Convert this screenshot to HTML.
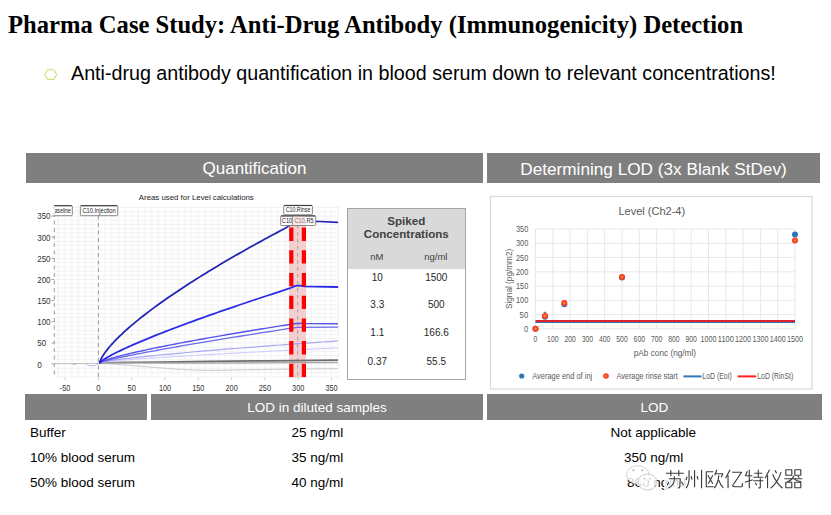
<!DOCTYPE html>
<html><head><meta charset="utf-8"><style>
*{margin:0;padding:0;box-sizing:border-box}
html,body{width:831px;height:515px;overflow:hidden;background:#fff}
body{position:relative;font-family:"Liberation Sans",sans-serif;color:#000}
.a{position:absolute;white-space:nowrap}
.bar{position:absolute;background:#7f7f7f;color:#fff;text-align:center}
svg{position:absolute;left:0;top:0}
svg text{font-family:"Liberation Sans",sans-serif}
.tbl{position:absolute;left:347.3px;top:207.8px;width:119px;height:172.5px;border:1px solid #a6a6a6;background:#fff;font-size:10px;color:#262626}
.tbl .hd{position:absolute;left:0;top:0;width:117px;height:60px;background:#d9d9d9}
.c{position:absolute;text-align:center;width:60px}
</style></head><body>
<div class="a" style="left:8px;top:10px;font-family:'Liberation Serif',serif;font-weight:bold;font-size:24.6px;line-height:30px">Pharma Case Study: Anti-Drug Antibody (Immunogenicity) Detection</div>
<div class="a" style="left:71px;top:60.6px;font-size:19.7px;line-height:24px">Anti-drug antibody quantification in blood serum down to relevant concentrations!</div>

<div class="bar" style="left:26px;top:153px;width:457px;height:30px;font-size:17px;line-height:32px">Quantification</div>
<div class="bar" style="left:487px;top:153px;width:333px;height:30px;font-size:17.2px;line-height:32px">Determining LOD (3x Blank StDev)</div>

<svg width="831" height="515" viewBox="0 0 831 515">
<line x1="58.4" y1="205.5" x2="58.4" y2="377.6" stroke="#efefef" stroke-width="0.8"/>
<line x1="65.1" y1="205.5" x2="65.1" y2="377.6" stroke="#efefef" stroke-width="0.8"/>
<line x1="71.8" y1="205.5" x2="71.8" y2="377.6" stroke="#efefef" stroke-width="0.8"/>
<line x1="78.4" y1="205.5" x2="78.4" y2="377.6" stroke="#efefef" stroke-width="0.8"/>
<line x1="85.1" y1="205.5" x2="85.1" y2="377.6" stroke="#efefef" stroke-width="0.8"/>
<line x1="91.7" y1="205.5" x2="91.7" y2="377.6" stroke="#efefef" stroke-width="0.8"/>
<line x1="98.4" y1="205.5" x2="98.4" y2="377.6" stroke="#efefef" stroke-width="0.8"/>
<line x1="105.1" y1="205.5" x2="105.1" y2="377.6" stroke="#efefef" stroke-width="0.8"/>
<line x1="111.7" y1="205.5" x2="111.7" y2="377.6" stroke="#efefef" stroke-width="0.8"/>
<line x1="118.4" y1="205.5" x2="118.4" y2="377.6" stroke="#efefef" stroke-width="0.8"/>
<line x1="125.0" y1="205.5" x2="125.0" y2="377.6" stroke="#efefef" stroke-width="0.8"/>
<line x1="131.7" y1="205.5" x2="131.7" y2="377.6" stroke="#efefef" stroke-width="0.8"/>
<line x1="138.4" y1="205.5" x2="138.4" y2="377.6" stroke="#efefef" stroke-width="0.8"/>
<line x1="145.0" y1="205.5" x2="145.0" y2="377.6" stroke="#efefef" stroke-width="0.8"/>
<line x1="151.7" y1="205.5" x2="151.7" y2="377.6" stroke="#efefef" stroke-width="0.8"/>
<line x1="158.3" y1="205.5" x2="158.3" y2="377.6" stroke="#efefef" stroke-width="0.8"/>
<line x1="165.0" y1="205.5" x2="165.0" y2="377.6" stroke="#efefef" stroke-width="0.8"/>
<line x1="171.7" y1="205.5" x2="171.7" y2="377.6" stroke="#efefef" stroke-width="0.8"/>
<line x1="178.3" y1="205.5" x2="178.3" y2="377.6" stroke="#efefef" stroke-width="0.8"/>
<line x1="185.0" y1="205.5" x2="185.0" y2="377.6" stroke="#efefef" stroke-width="0.8"/>
<line x1="191.6" y1="205.5" x2="191.6" y2="377.6" stroke="#efefef" stroke-width="0.8"/>
<line x1="198.3" y1="205.5" x2="198.3" y2="377.6" stroke="#efefef" stroke-width="0.8"/>
<line x1="205.0" y1="205.5" x2="205.0" y2="377.6" stroke="#efefef" stroke-width="0.8"/>
<line x1="211.6" y1="205.5" x2="211.6" y2="377.6" stroke="#efefef" stroke-width="0.8"/>
<line x1="218.3" y1="205.5" x2="218.3" y2="377.6" stroke="#efefef" stroke-width="0.8"/>
<line x1="224.9" y1="205.5" x2="224.9" y2="377.6" stroke="#efefef" stroke-width="0.8"/>
<line x1="231.6" y1="205.5" x2="231.6" y2="377.6" stroke="#efefef" stroke-width="0.8"/>
<line x1="238.3" y1="205.5" x2="238.3" y2="377.6" stroke="#efefef" stroke-width="0.8"/>
<line x1="244.9" y1="205.5" x2="244.9" y2="377.6" stroke="#efefef" stroke-width="0.8"/>
<line x1="251.6" y1="205.5" x2="251.6" y2="377.6" stroke="#efefef" stroke-width="0.8"/>
<line x1="258.2" y1="205.5" x2="258.2" y2="377.6" stroke="#efefef" stroke-width="0.8"/>
<line x1="264.9" y1="205.5" x2="264.9" y2="377.6" stroke="#efefef" stroke-width="0.8"/>
<line x1="271.6" y1="205.5" x2="271.6" y2="377.6" stroke="#efefef" stroke-width="0.8"/>
<line x1="278.2" y1="205.5" x2="278.2" y2="377.6" stroke="#efefef" stroke-width="0.8"/>
<line x1="284.9" y1="205.5" x2="284.9" y2="377.6" stroke="#efefef" stroke-width="0.8"/>
<line x1="291.5" y1="205.5" x2="291.5" y2="377.6" stroke="#efefef" stroke-width="0.8"/>
<line x1="298.2" y1="205.5" x2="298.2" y2="377.6" stroke="#efefef" stroke-width="0.8"/>
<line x1="304.9" y1="205.5" x2="304.9" y2="377.6" stroke="#efefef" stroke-width="0.8"/>
<line x1="311.5" y1="205.5" x2="311.5" y2="377.6" stroke="#efefef" stroke-width="0.8"/>
<line x1="318.2" y1="205.5" x2="318.2" y2="377.6" stroke="#efefef" stroke-width="0.8"/>
<line x1="324.8" y1="205.5" x2="324.8" y2="377.6" stroke="#efefef" stroke-width="0.8"/>
<line x1="331.5" y1="205.5" x2="331.5" y2="377.6" stroke="#efefef" stroke-width="0.8"/>
<line x1="338.2" y1="205.5" x2="338.2" y2="377.6" stroke="#efefef" stroke-width="0.8"/>
<line x1="54.3" y1="376.7" x2="338.2" y2="376.7" stroke="#efefef" stroke-width="0.8"/>
<line x1="54.3" y1="372.5" x2="338.2" y2="372.5" stroke="#efefef" stroke-width="0.8"/>
<line x1="54.3" y1="368.2" x2="338.2" y2="368.2" stroke="#efefef" stroke-width="0.8"/>
<line x1="54.3" y1="364.0" x2="338.2" y2="364.0" stroke="#efefef" stroke-width="0.8"/>
<line x1="54.3" y1="359.8" x2="338.2" y2="359.8" stroke="#efefef" stroke-width="0.8"/>
<line x1="54.3" y1="355.5" x2="338.2" y2="355.5" stroke="#efefef" stroke-width="0.8"/>
<line x1="54.3" y1="351.3" x2="338.2" y2="351.3" stroke="#efefef" stroke-width="0.8"/>
<line x1="54.3" y1="347.1" x2="338.2" y2="347.1" stroke="#efefef" stroke-width="0.8"/>
<line x1="54.3" y1="342.9" x2="338.2" y2="342.9" stroke="#efefef" stroke-width="0.8"/>
<line x1="54.3" y1="338.6" x2="338.2" y2="338.6" stroke="#efefef" stroke-width="0.8"/>
<line x1="54.3" y1="334.4" x2="338.2" y2="334.4" stroke="#efefef" stroke-width="0.8"/>
<line x1="54.3" y1="330.2" x2="338.2" y2="330.2" stroke="#efefef" stroke-width="0.8"/>
<line x1="54.3" y1="325.9" x2="338.2" y2="325.9" stroke="#efefef" stroke-width="0.8"/>
<line x1="54.3" y1="321.7" x2="338.2" y2="321.7" stroke="#efefef" stroke-width="0.8"/>
<line x1="54.3" y1="317.5" x2="338.2" y2="317.5" stroke="#efefef" stroke-width="0.8"/>
<line x1="54.3" y1="313.3" x2="338.2" y2="313.3" stroke="#efefef" stroke-width="0.8"/>
<line x1="54.3" y1="309.0" x2="338.2" y2="309.0" stroke="#efefef" stroke-width="0.8"/>
<line x1="54.3" y1="304.8" x2="338.2" y2="304.8" stroke="#efefef" stroke-width="0.8"/>
<line x1="54.3" y1="300.6" x2="338.2" y2="300.6" stroke="#efefef" stroke-width="0.8"/>
<line x1="54.3" y1="296.3" x2="338.2" y2="296.3" stroke="#efefef" stroke-width="0.8"/>
<line x1="54.3" y1="292.1" x2="338.2" y2="292.1" stroke="#efefef" stroke-width="0.8"/>
<line x1="54.3" y1="287.9" x2="338.2" y2="287.9" stroke="#efefef" stroke-width="0.8"/>
<line x1="54.3" y1="283.6" x2="338.2" y2="283.6" stroke="#efefef" stroke-width="0.8"/>
<line x1="54.3" y1="279.4" x2="338.2" y2="279.4" stroke="#efefef" stroke-width="0.8"/>
<line x1="54.3" y1="275.2" x2="338.2" y2="275.2" stroke="#efefef" stroke-width="0.8"/>
<line x1="54.3" y1="271.0" x2="338.2" y2="271.0" stroke="#efefef" stroke-width="0.8"/>
<line x1="54.3" y1="266.7" x2="338.2" y2="266.7" stroke="#efefef" stroke-width="0.8"/>
<line x1="54.3" y1="262.5" x2="338.2" y2="262.5" stroke="#efefef" stroke-width="0.8"/>
<line x1="54.3" y1="258.3" x2="338.2" y2="258.3" stroke="#efefef" stroke-width="0.8"/>
<line x1="54.3" y1="254.0" x2="338.2" y2="254.0" stroke="#efefef" stroke-width="0.8"/>
<line x1="54.3" y1="249.8" x2="338.2" y2="249.8" stroke="#efefef" stroke-width="0.8"/>
<line x1="54.3" y1="245.6" x2="338.2" y2="245.6" stroke="#efefef" stroke-width="0.8"/>
<line x1="54.3" y1="241.4" x2="338.2" y2="241.4" stroke="#efefef" stroke-width="0.8"/>
<line x1="54.3" y1="237.1" x2="338.2" y2="237.1" stroke="#efefef" stroke-width="0.8"/>
<line x1="54.3" y1="232.9" x2="338.2" y2="232.9" stroke="#efefef" stroke-width="0.8"/>
<line x1="54.3" y1="228.7" x2="338.2" y2="228.7" stroke="#efefef" stroke-width="0.8"/>
<line x1="54.3" y1="224.4" x2="338.2" y2="224.4" stroke="#efefef" stroke-width="0.8"/>
<line x1="54.3" y1="220.2" x2="338.2" y2="220.2" stroke="#efefef" stroke-width="0.8"/>
<line x1="54.3" y1="216.0" x2="338.2" y2="216.0" stroke="#efefef" stroke-width="0.8"/>
<line x1="54.3" y1="211.8" x2="338.2" y2="211.8" stroke="#efefef" stroke-width="0.8"/>
<line x1="54.3" y1="207.5" x2="338.2" y2="207.5" stroke="#efefef" stroke-width="0.8"/>
<text x="37.2" y="368.2" font-size="9.5" fill="#333" textLength="4.6" lengthAdjust="spacingAndGlyphs">0</text>
<line x1="51.5" y1="364.0" x2="54.3" y2="364.0" stroke="#888" stroke-width="0.8"/>
<text x="37.2" y="346.3" font-size="9.5" fill="#333" textLength="9.0" lengthAdjust="spacingAndGlyphs">50</text>
<line x1="51.5" y1="342.9" x2="54.3" y2="342.9" stroke="#888" stroke-width="0.8"/>
<text x="37.2" y="325.1" font-size="9.5" fill="#333" textLength="13.4" lengthAdjust="spacingAndGlyphs">100</text>
<line x1="51.5" y1="321.7" x2="54.3" y2="321.7" stroke="#888" stroke-width="0.8"/>
<text x="37.2" y="304.0" font-size="9.5" fill="#333" textLength="13.4" lengthAdjust="spacingAndGlyphs">150</text>
<line x1="51.5" y1="300.6" x2="54.3" y2="300.6" stroke="#888" stroke-width="0.8"/>
<text x="37.2" y="282.8" font-size="9.5" fill="#333" textLength="13.4" lengthAdjust="spacingAndGlyphs">200</text>
<line x1="51.5" y1="279.4" x2="54.3" y2="279.4" stroke="#888" stroke-width="0.8"/>
<text x="37.2" y="261.7" font-size="9.5" fill="#333" textLength="13.4" lengthAdjust="spacingAndGlyphs">250</text>
<line x1="51.5" y1="258.3" x2="54.3" y2="258.3" stroke="#888" stroke-width="0.8"/>
<text x="37.2" y="240.5" font-size="9.5" fill="#333" textLength="13.4" lengthAdjust="spacingAndGlyphs">300</text>
<line x1="51.5" y1="237.1" x2="54.3" y2="237.1" stroke="#888" stroke-width="0.8"/>
<text x="37.2" y="219.4" font-size="9.5" fill="#333" textLength="13.4" lengthAdjust="spacingAndGlyphs">350</text>
<line x1="51.5" y1="216.0" x2="54.3" y2="216.0" stroke="#888" stroke-width="0.8"/>
<text x="59.8" y="390.7" font-size="9.5" fill="#333" textLength="10.6" lengthAdjust="spacingAndGlyphs">-50</text>
<line x1="65.1" y1="377.6" x2="65.1" y2="380.1" stroke="#c0c0c0" stroke-width="0.8"/>
<text x="96.2" y="390.7" font-size="9.5" fill="#333" textLength="4.4" lengthAdjust="spacingAndGlyphs">0</text>
<line x1="98.4" y1="377.6" x2="98.4" y2="380.1" stroke="#c0c0c0" stroke-width="0.8"/>
<text x="127.5" y="390.7" font-size="9.5" fill="#333" textLength="8.4" lengthAdjust="spacingAndGlyphs">50</text>
<line x1="131.7" y1="377.6" x2="131.7" y2="380.1" stroke="#c0c0c0" stroke-width="0.8"/>
<text x="158.9" y="390.7" font-size="9.5" fill="#333" textLength="12.2" lengthAdjust="spacingAndGlyphs">100</text>
<line x1="165.0" y1="377.6" x2="165.0" y2="380.1" stroke="#c0c0c0" stroke-width="0.8"/>
<text x="192.2" y="390.7" font-size="9.5" fill="#333" textLength="12.2" lengthAdjust="spacingAndGlyphs">150</text>
<line x1="198.3" y1="377.6" x2="198.3" y2="380.1" stroke="#c0c0c0" stroke-width="0.8"/>
<text x="225.5" y="390.7" font-size="9.5" fill="#333" textLength="12.2" lengthAdjust="spacingAndGlyphs">200</text>
<line x1="231.6" y1="377.6" x2="231.6" y2="380.1" stroke="#c0c0c0" stroke-width="0.8"/>
<text x="258.8" y="390.7" font-size="9.5" fill="#333" textLength="12.2" lengthAdjust="spacingAndGlyphs">250</text>
<line x1="264.9" y1="377.6" x2="264.9" y2="380.1" stroke="#c0c0c0" stroke-width="0.8"/>
<text x="292.1" y="390.7" font-size="9.5" fill="#333" textLength="12.2" lengthAdjust="spacingAndGlyphs">300</text>
<line x1="298.2" y1="377.6" x2="298.2" y2="380.1" stroke="#c0c0c0" stroke-width="0.8"/>
<text x="325.4" y="390.7" font-size="9.5" fill="#333" textLength="12.2" lengthAdjust="spacingAndGlyphs">350</text>
<line x1="331.5" y1="377.6" x2="331.5" y2="380.1" stroke="#c0c0c0" stroke-width="0.8"/>
<rect x="289" y="216" width="17" height="161.60000000000002" fill="#f2caca" opacity="0.9"/>
<line x1="54.3" y1="205.5" x2="54.3" y2="377.6" stroke="#9a9a9a" stroke-width="1" stroke-dasharray="4,3.5"/>
<line x1="98.4" y1="215.5" x2="98.4" y2="377.6" stroke="#9a9a9a" stroke-width="1" stroke-dasharray="4,3.5"/>
<line x1="297.7" y1="225" x2="297.7" y2="377.6" stroke="#9a9a9a" stroke-width="0.9" stroke-dasharray="3.5,3.5"/>
<path d="M54.3,363.6 L99.8,363.4 L338,362.8" stroke="#c4c4c4" stroke-width="1" fill="none"/>
<path d="M99.8,362.6 C104.8,363.1 113.8,364.2 130.0,365.5 C146.2,366.8 177.0,369.5 197.0,370.2 C217.0,370.9 226.6,369.9 250.0,369.6 C273.4,369.3 322.8,368.8 337.4,368.6" fill="none" stroke="#d2d2d2" stroke-width="1.2" stroke-linejoin="round" stroke-linecap="round"/>
<path d="M99.8,362.6 C109.8,362.5 141.6,362.2 160.0,362.0 C178.4,361.8 180.4,361.7 210.0,361.4 C239.6,361.1 316.2,360.3 337.4,360.1" fill="none" stroke="#6e6e6e" stroke-width="1.7" stroke-linejoin="round" stroke-linecap="round"/>
<path d="M99.8,362.6 C118.2,362.7 170.4,363.1 210.0,363.0 C249.6,362.9 316.2,362.4 337.4,362.3" fill="none" stroke="#a0a0a0" stroke-width="1" stroke-linejoin="round" stroke-linecap="round"/>
<path d="M72,363.6 L74,364.8 L77,363.6 M86,363.6 L88.5,365.6 L94,365.8 L97,364.5 L99.8,362.6" stroke="#a8a8e0" stroke-width="0.8" fill="none"/>
<path d="M99.80,362.60 L100.40,362.46 L101.00,362.35 L101.60,362.26 L102.20,362.18 L102.80,362.10 L103.40,362.02 L104.00,361.95 L104.60,361.88 L105.20,361.81 L105.80,361.74 L106.40,361.68 L107.90,361.52 L109.40,361.37 L110.90,361.22 L112.40,361.08 L113.90,360.94 L115.40,360.81 L116.90,360.68 L118.40,360.55 L119.90,360.42 L121.40,360.30 L122.90,360.17 L124.40,360.05 L125.90,359.93 L127.40,359.82 L128.90,359.70 L130.40,359.58 L133.40,359.36 L136.40,359.14 L139.40,358.92 L142.40,358.71 L145.40,358.50 L148.40,358.29 L151.40,358.09 L154.40,357.88 L157.40,357.69 L160.40,357.49 L163.40,357.29 L166.40,357.10 L169.40,356.91 L172.40,356.72 L175.40,356.54 L178.40,356.35 L181.40,356.17 L184.40,355.99 L187.40,355.81 L190.40,355.63 L193.40,355.45 L196.40,355.27 L199.40,355.10 L202.40,354.93 L205.40,354.75 L208.40,354.58 L211.40,354.41 L214.40,354.24 L217.40,354.07 L220.40,353.91 L223.40,353.74 L226.40,353.57 L229.40,353.41 L232.40,353.25 L235.40,353.08 L238.40,352.92 L241.40,352.76 L244.40,352.60 L247.40,352.44 L250.40,352.28 L253.40,352.12 L256.40,351.96 L259.40,351.81 L262.40,351.65 L265.40,351.49 L268.40,351.34 L271.40,351.18 L274.40,351.03 L277.40,350.88 L280.40,350.73 L283.40,350.57 L286.40,350.42 L289.40,350.27 L292.40,350.12 L295.40,349.97 L298.40,349.82 L301.40,349.67 L304.40,349.52 L307.40,349.38 L310.40,349.23 L313.40,349.08 L316.40,348.94 L319.40,348.79 L322.40,348.65 L325.40,348.50 L328.40,348.36 L331.40,348.21 L334.40,348.07 L337.40,347.92" fill="none" stroke="#cfcfff" stroke-width="1.1" stroke-linejoin="round" stroke-linecap="round"/>
<path d="M99.80,362.60 L100.40,362.38 L101.00,362.22 L101.60,362.08 L102.20,361.96 L102.80,361.84 L103.40,361.72 L104.00,361.61 L104.60,361.50 L105.20,361.40 L105.80,361.30 L106.40,361.20 L107.90,360.97 L109.40,360.74 L110.90,360.52 L112.40,360.31 L113.90,360.10 L115.40,359.90 L116.90,359.70 L118.40,359.51 L119.90,359.32 L121.40,359.14 L122.90,358.96 L124.40,358.78 L125.90,358.60 L127.40,358.42 L128.90,358.25 L130.40,358.08 L133.40,357.75 L136.40,357.42 L139.40,357.10 L142.40,356.78 L145.40,356.47 L148.40,356.16 L151.40,355.86 L154.40,355.56 L157.40,355.27 L160.40,354.98 L163.40,354.69 L166.40,354.41 L169.40,354.13 L172.40,353.85 L175.40,353.57 L178.40,353.30 L181.40,353.03 L184.40,352.76 L187.40,352.50 L190.40,352.23 L193.40,351.97 L196.40,351.71 L199.40,351.45 L202.40,351.20 L205.40,350.94 L208.40,350.69 L211.40,350.44 L214.40,350.19 L217.40,349.94 L220.40,349.70 L223.40,349.45 L226.40,349.21 L229.40,348.96 L232.40,348.72 L235.40,348.48 L238.40,348.25 L241.40,348.01 L244.40,347.77 L247.40,347.54 L250.40,347.30 L253.40,347.07 L256.40,346.84 L259.40,346.61 L262.40,346.38 L265.40,346.15 L268.40,345.93 L271.40,345.70 L274.40,345.47 L277.40,345.25 L280.40,345.02 L283.40,344.80 L286.40,344.58 L289.40,344.36 L292.40,344.14 L295.40,343.92 L298.40,343.70 L301.40,343.48 L304.40,343.26 L307.40,343.05 L310.40,342.83 L313.40,342.62 L316.40,342.40 L319.40,342.19 L322.40,341.98 L325.40,341.76 L328.40,341.55 L331.40,341.34 L334.40,341.13 L337.40,340.92" fill="none" stroke="#a8a8f6" stroke-width="1.2" stroke-linejoin="round" stroke-linecap="round"/>
<path d="M99.80,362.60 L100.40,362.35 L101.00,362.15 L101.60,361.96 L102.20,361.78 L102.80,361.61 L103.40,361.44 L104.00,361.28 L104.60,361.12 L105.20,360.96 L105.80,360.81 L106.40,360.65 L107.90,360.28 L109.40,359.92 L110.90,359.57 L112.40,359.22 L113.90,358.88 L115.40,358.55 L116.90,358.22 L118.40,357.89 L119.90,357.57 L121.40,357.25 L122.90,356.94 L124.40,356.62 L125.90,356.31 L127.40,356.01 L128.90,355.70 L130.40,355.40 L133.40,354.80 L136.40,354.21 L139.40,353.63 L142.40,353.05 L145.40,352.48 L148.40,351.92 L151.40,351.36 L154.40,350.80 L157.40,350.25 L160.40,349.71 L163.40,349.16 L166.40,348.62 L169.40,348.09 L172.40,347.56 L175.40,347.03 L178.40,346.50 L181.40,345.98 L184.40,345.46 L187.40,344.94 L190.40,344.43 L193.40,343.92 L196.40,343.41 L199.40,342.90 L202.40,342.40 L205.40,341.89 L208.40,341.39 L211.40,340.89 L214.40,340.40 L217.40,339.90 L220.40,339.41 L223.40,338.92 L226.40,338.43 L229.40,337.94 L232.40,337.45 L235.40,336.97 L238.40,336.49 L241.40,336.00 L244.40,335.52 L247.40,335.05 L250.40,334.57 L253.40,334.09 L256.40,333.62 L259.40,333.15 L262.40,332.67 L265.40,332.20 L268.40,331.74 L271.40,331.27 L274.40,330.80 L277.40,330.34 L280.40,329.87 L283.40,329.41 L286.40,328.95 L289.40,328.48 L292.40,328.03 L298.00,327.30 L337.40,327.20" fill="none" stroke="#6a6aee" stroke-width="1.3" stroke-linejoin="round" stroke-linecap="round"/>
<path d="M99.80,362.60 L100.40,362.17 L101.00,361.87 L101.60,361.59 L102.20,361.34 L102.80,361.10 L103.40,360.87 L104.00,360.65 L104.60,360.43 L105.20,360.23 L105.80,360.02 L106.40,359.82 L107.90,359.34 L109.40,358.88 L110.90,358.44 L112.40,358.00 L113.90,357.58 L115.40,357.17 L116.90,356.77 L118.40,356.37 L119.90,355.98 L121.40,355.60 L122.90,355.23 L124.40,354.85 L125.90,354.49 L127.40,354.13 L128.90,353.77 L130.40,353.42 L133.40,352.72 L136.40,352.04 L139.40,351.37 L142.40,350.71 L145.40,350.06 L148.40,349.43 L151.40,348.80 L154.40,348.17 L157.40,347.56 L160.40,346.95 L163.40,346.35 L166.40,345.76 L169.40,345.17 L172.40,344.58 L175.40,344.01 L178.40,343.43 L181.40,342.86 L184.40,342.30 L187.40,341.74 L190.40,341.19 L193.40,340.63 L196.40,340.09 L199.40,339.54 L202.40,339.00 L205.40,338.47 L208.40,337.93 L211.40,337.40 L214.40,336.88 L217.40,336.35 L220.40,335.83 L223.40,335.32 L226.40,334.80 L229.40,334.29 L232.40,333.78 L235.40,333.27 L238.40,332.77 L241.40,332.26 L244.40,331.76 L247.40,331.27 L250.40,330.77 L253.40,330.28 L256.40,329.78 L259.40,329.30 L262.40,328.81 L265.40,328.32 L268.40,327.84 L271.40,327.36 L274.40,326.88 L277.40,326.40 L280.40,325.92 L283.40,325.45 L286.40,324.98 L289.40,324.51 L298.00,323.30 L305.00,323.60 L337.40,323.80" fill="none" stroke="#5555ec" stroke-width="1.4" stroke-linejoin="round" stroke-linecap="round"/>
<path d="M99.80,362.60 L100.40,361.94 L101.00,361.43 L101.60,360.97 L102.20,360.54 L102.80,360.13 L103.40,359.73 L104.00,359.34 L104.60,358.96 L105.20,358.59 L105.80,358.23 L106.40,357.88 L107.90,357.01 L109.40,356.18 L110.90,355.37 L112.40,354.57 L113.90,353.80 L115.40,353.04 L116.90,352.29 L118.40,351.55 L119.90,350.83 L121.40,350.11 L122.90,349.41 L124.40,348.71 L125.90,348.02 L127.40,347.33 L128.90,346.66 L130.40,345.99 L133.40,344.66 L136.40,343.36 L139.40,342.08 L142.40,340.81 L145.40,339.56 L148.40,338.32 L151.40,337.10 L154.40,335.89 L157.40,334.69 L160.40,333.51 L163.40,332.33 L166.40,331.16 L169.40,330.01 L172.40,328.86 L175.40,327.72 L178.40,326.59 L181.40,325.47 L184.40,324.35 L187.40,323.24 L190.40,322.14 L193.40,321.05 L196.40,319.96 L199.40,318.87 L202.40,317.80 L205.40,316.73 L208.40,315.66 L211.40,314.60 L214.40,313.54 L217.40,312.49 L220.40,311.45 L223.40,310.41 L226.40,309.37 L229.40,308.34 L232.40,307.31 L235.40,306.29 L238.40,305.27 L241.40,304.25 L244.40,303.24 L247.40,302.23 L250.40,301.23 L253.40,300.23 L256.40,299.23 L259.40,298.23 L262.40,297.24 L265.40,296.26 L268.40,295.27 L271.40,294.29 L274.40,293.31 L277.40,292.34 L280.40,291.37 L283.40,290.40 L286.40,289.43 L289.40,288.47 L294.00,286.40 L297.00,285.70 L300.00,285.70 L304.00,286.30 L337.40,287.00" fill="none" stroke="#2b2be8" stroke-width="1.8" stroke-linejoin="round" stroke-linecap="round"/>
<path d="M99.80,362.60 L100.40,360.53 L101.00,359.17 L101.60,358.00 L102.20,356.93 L102.80,355.92 L103.40,354.98 L104.00,354.07 L104.60,353.20 L105.20,352.36 L105.80,351.54 L106.40,350.75 L107.90,348.84 L109.40,347.03 L110.90,345.30 L112.40,343.62 L113.90,342.01 L115.40,340.43 L116.90,338.90 L118.40,337.40 L119.90,335.94 L121.40,334.51 L122.90,333.10 L124.40,331.72 L125.90,330.36 L127.40,329.02 L128.90,327.70 L130.40,326.40 L133.40,323.85 L136.40,321.36 L139.40,318.92 L142.40,316.54 L145.40,314.20 L148.40,311.90 L151.40,309.64 L154.40,307.42 L157.40,305.23 L160.40,303.07 L163.40,300.94 L166.40,298.83 L169.40,296.75 L172.40,294.70 L175.40,292.67 L178.40,290.66 L181.40,288.67 L184.40,286.70 L187.40,284.75 L190.40,282.82 L193.40,280.90 L196.40,279.00 L199.40,277.12 L202.40,275.26 L205.40,273.40 L208.40,271.57 L211.40,269.74 L214.40,267.93 L217.40,266.13 L220.40,264.35 L223.40,262.57 L226.40,260.81 L229.40,259.06 L232.40,257.32 L235.40,255.59 L238.40,253.88 L241.40,252.17 L244.40,250.47 L247.40,248.78 L250.40,247.10 L253.40,245.43 L256.40,243.77 L259.40,242.12 L262.40,240.47 L265.40,238.84 L268.40,237.21 L271.40,235.59 L274.40,233.97 L277.40,232.37 L280.40,230.77 L283.40,229.18 L286.40,227.60 L292.00,223.60 L296.00,222.30 L300.00,221.60 L305.00,221.30 L320.00,221.50 L337.40,222.30" fill="none" stroke="#2222b6" stroke-width="1.75" stroke-linejoin="round" stroke-linecap="round"/>
<line x1="291.3" y1="227.6" x2="291.3" y2="377.6" stroke="#ff0000" stroke-width="4.2" stroke-dasharray="13.3,9.4"/>
<line x1="303.9" y1="227.6" x2="303.9" y2="377.6" stroke="#ff0000" stroke-width="4.2" stroke-dasharray="13.3,9.4"/>
<path d="M54.3,205.5 H71.3 Q72.3,205.5 72.3,206.5 V214.7 Q72.3,215.7 71.3,215.7 H54.3 Z" fill="#fff"/>
<path d="M54.3,205.5 H71.3 Q72.3,205.5 72.3,206.5 V214.7 Q72.3,215.7 71.3,215.7 H54.3" fill="none" stroke="#6a6a6a" stroke-width="0.8"/>
<line x1="54.3" y1="205.8" x2="71.8" y2="205.8" stroke="#333" stroke-width="1"/>
<text x="54.8" y="213.2" font-size="7.6" fill="#1a1a1a" textLength="16" lengthAdjust="spacingAndGlyphs">aseline</text>
<rect x="80.4" y="205.5" width="37.3" height="10.2" rx="1" fill="#fff" stroke="#6a6a6a" stroke-width="0.8"/>
<line x1="80.9" y1="205.8" x2="117.2" y2="205.8" stroke="#333" stroke-width="1"/>
<text x="82.4" y="213.2" font-size="7.6" fill="#1a1a1a" textLength="33.3" lengthAdjust="spacingAndGlyphs">C10.Injection</text>
<rect x="283.7" y="205.3" width="28.7" height="9.5" rx="1" fill="#fff" stroke="#6a6a6a" stroke-width="0.8"/>
<line x1="284.2" y1="205.60000000000002" x2="311.9" y2="205.60000000000002" stroke="#333" stroke-width="1"/>
<text x="285.7" y="212.3" font-size="7.6" fill="#1a1a1a" textLength="24.7" lengthAdjust="spacingAndGlyphs">C10.Rinse</text>
<rect x="280.7" y="215.7" width="13.3" height="9.8" rx="1" fill="#fff" stroke="#6a6a6a" stroke-width="0.8"/>
<line x1="281.2" y1="216.0" x2="293.5" y2="216.0" stroke="#333" stroke-width="1"/>
<text x="281.8" y="223.0" font-size="7.6" fill="#1a1a1a" textLength="12.0" lengthAdjust="spacingAndGlyphs">C10.</text>
<rect x="292.4" y="215.7" width="23.3" height="9.8" rx="1" fill="#fff" stroke="#6a6a6a" stroke-width="0.8"/>
<line x1="292.9" y1="216.0" x2="315.2" y2="216.0" stroke="#333" stroke-width="1"/>
<text x="294.4" y="223.0" font-size="7.6" fill="#1a1a1a" textLength="19.3" lengthAdjust="spacingAndGlyphs">C10.R5</text>
<rect x="292.8" y="216.2" width="12.8" height="8.9" fill="#f2caca" opacity="0.45"/>
<text x="138.8" y="199.8" font-size="8" fill="#1a1a1a" textLength="115" lengthAdjust="spacingAndGlyphs">Areas used for Level calculations</text>
<rect x="490.5" y="196.5" width="321.5" height="192.5" fill="#fff" stroke="#d9d9d9" stroke-width="1.2"/>
<line x1="535.5" y1="229.0" x2="535.5" y2="328.8" stroke="#e2e2e2" stroke-width="0.8"/>
<text x="533.6" y="341.8" font-size="8.5" fill="#595959" textLength="3.8" lengthAdjust="spacingAndGlyphs">0</text>
<line x1="552.8" y1="229.0" x2="552.8" y2="328.8" stroke="#e2e2e2" stroke-width="0.8"/>
<text x="547.1" y="341.8" font-size="8.5" fill="#595959" textLength="11.4" lengthAdjust="spacingAndGlyphs">100</text>
<line x1="570.1" y1="229.0" x2="570.1" y2="328.8" stroke="#e2e2e2" stroke-width="0.8"/>
<text x="564.4" y="341.8" font-size="8.5" fill="#595959" textLength="11.4" lengthAdjust="spacingAndGlyphs">200</text>
<line x1="587.4" y1="229.0" x2="587.4" y2="328.8" stroke="#e2e2e2" stroke-width="0.8"/>
<text x="581.7" y="341.8" font-size="8.5" fill="#595959" textLength="11.4" lengthAdjust="spacingAndGlyphs">300</text>
<line x1="604.7" y1="229.0" x2="604.7" y2="328.8" stroke="#e2e2e2" stroke-width="0.8"/>
<text x="599.0" y="341.8" font-size="8.5" fill="#595959" textLength="11.4" lengthAdjust="spacingAndGlyphs">400</text>
<line x1="622.0" y1="229.0" x2="622.0" y2="328.8" stroke="#e2e2e2" stroke-width="0.8"/>
<text x="616.3" y="341.8" font-size="8.5" fill="#595959" textLength="11.4" lengthAdjust="spacingAndGlyphs">500</text>
<line x1="639.3" y1="229.0" x2="639.3" y2="328.8" stroke="#e2e2e2" stroke-width="0.8"/>
<text x="633.6" y="341.8" font-size="8.5" fill="#595959" textLength="11.4" lengthAdjust="spacingAndGlyphs">600</text>
<line x1="656.6" y1="229.0" x2="656.6" y2="328.8" stroke="#e2e2e2" stroke-width="0.8"/>
<text x="650.9" y="341.8" font-size="8.5" fill="#595959" textLength="11.4" lengthAdjust="spacingAndGlyphs">700</text>
<line x1="673.9" y1="229.0" x2="673.9" y2="328.8" stroke="#e2e2e2" stroke-width="0.8"/>
<text x="668.2" y="341.8" font-size="8.5" fill="#595959" textLength="11.4" lengthAdjust="spacingAndGlyphs">800</text>
<line x1="691.2" y1="229.0" x2="691.2" y2="328.8" stroke="#e2e2e2" stroke-width="0.8"/>
<text x="685.5" y="341.8" font-size="8.5" fill="#595959" textLength="11.4" lengthAdjust="spacingAndGlyphs">900</text>
<line x1="708.5" y1="229.0" x2="708.5" y2="328.8" stroke="#e2e2e2" stroke-width="0.8"/>
<text x="700.5" y="341.8" font-size="8.5" fill="#595959" textLength="16.0" lengthAdjust="spacingAndGlyphs">1000</text>
<line x1="725.8" y1="229.0" x2="725.8" y2="328.8" stroke="#e2e2e2" stroke-width="0.8"/>
<text x="717.8" y="341.8" font-size="8.5" fill="#595959" textLength="16.0" lengthAdjust="spacingAndGlyphs">1100</text>
<line x1="743.1" y1="229.0" x2="743.1" y2="328.8" stroke="#e2e2e2" stroke-width="0.8"/>
<text x="735.1" y="341.8" font-size="8.5" fill="#595959" textLength="16.0" lengthAdjust="spacingAndGlyphs">1200</text>
<line x1="760.4" y1="229.0" x2="760.4" y2="328.8" stroke="#e2e2e2" stroke-width="0.8"/>
<text x="752.4" y="341.8" font-size="8.5" fill="#595959" textLength="16.0" lengthAdjust="spacingAndGlyphs">1300</text>
<line x1="777.7" y1="229.0" x2="777.7" y2="328.8" stroke="#e2e2e2" stroke-width="0.8"/>
<text x="769.7" y="341.8" font-size="8.5" fill="#595959" textLength="16.0" lengthAdjust="spacingAndGlyphs">1400</text>
<line x1="795.0" y1="229.0" x2="795.0" y2="328.8" stroke="#e2e2e2" stroke-width="0.8"/>
<text x="787.0" y="341.8" font-size="8.5" fill="#595959" textLength="16.0" lengthAdjust="spacingAndGlyphs">1500</text>
<line x1="535.5" y1="328.8" x2="795.0" y2="328.8" stroke="#e2e2e2" stroke-width="0.8"/>
<text x="523.9" y="331.8" font-size="8.5" fill="#595959" textLength="4.3" lengthAdjust="spacingAndGlyphs">0</text>
<line x1="535.5" y1="314.5" x2="795.0" y2="314.5" stroke="#e2e2e2" stroke-width="0.8"/>
<text x="519.6" y="317.5" font-size="8.5" fill="#595959" textLength="8.6" lengthAdjust="spacingAndGlyphs">50</text>
<line x1="535.5" y1="300.3" x2="795.0" y2="300.3" stroke="#e2e2e2" stroke-width="0.8"/>
<text x="516.0" y="303.3" font-size="8.5" fill="#595959" textLength="12.2" lengthAdjust="spacingAndGlyphs">100</text>
<line x1="535.5" y1="286.0" x2="795.0" y2="286.0" stroke="#e2e2e2" stroke-width="0.8"/>
<text x="516.0" y="289.0" font-size="8.5" fill="#595959" textLength="12.2" lengthAdjust="spacingAndGlyphs">150</text>
<line x1="535.5" y1="271.8" x2="795.0" y2="271.8" stroke="#e2e2e2" stroke-width="0.8"/>
<text x="516.0" y="274.8" font-size="8.5" fill="#595959" textLength="12.2" lengthAdjust="spacingAndGlyphs">200</text>
<line x1="535.5" y1="257.5" x2="795.0" y2="257.5" stroke="#e2e2e2" stroke-width="0.8"/>
<text x="516.0" y="260.5" font-size="8.5" fill="#595959" textLength="12.2" lengthAdjust="spacingAndGlyphs">250</text>
<line x1="535.5" y1="243.3" x2="795.0" y2="243.3" stroke="#e2e2e2" stroke-width="0.8"/>
<text x="516.0" y="246.3" font-size="8.5" fill="#595959" textLength="12.2" lengthAdjust="spacingAndGlyphs">300</text>
<line x1="535.5" y1="229.0" x2="795.0" y2="229.0" stroke="#e2e2e2" stroke-width="0.8"/>
<text x="516.0" y="232.0" font-size="8.5" fill="#595959" textLength="12.2" lengthAdjust="spacingAndGlyphs">350</text>
<text x="651.8" y="214.5" text-anchor="middle" font-size="11" fill="#595959">Level (Ch2-4)</text>
<text x="633.8" y="355.5" font-size="8.5" fill="#595959" textLength="62.2" lengthAdjust="spacingAndGlyphs">pAb conc (ng/ml)</text>
<text transform="translate(511.6,309) rotate(-90)" font-size="8.5" fill="#595959" textLength="60.2" lengthAdjust="spacingAndGlyphs">Signal (pg/mm2)</text>
<line x1="535.5" y1="322.3" x2="795.0" y2="322.3" stroke="#2e75b6" stroke-width="1.5"/>
<line x1="535.5" y1="321" x2="795.0" y2="321" stroke="#e0202a" stroke-width="2"/>
<line x1="545.0" y1="312.3" x2="545.0" y2="318.5" stroke="#595959" stroke-width="0.8"/>
<line x1="543.5" y1="312.3" x2="546.5" y2="312.3" stroke="#595959" stroke-width="0.8"/>
<circle cx="535.5" cy="328.8" r="3" fill="#2e75b6"/>
<circle cx="545.0" cy="316.8" r="3" fill="#2e75b6"/>
<circle cx="564.3" cy="304.3" r="3" fill="#2e75b6"/>
<circle cx="622.0" cy="277.5" r="3" fill="#2e75b6"/>
<circle cx="795.0" cy="234.4" r="3" fill="#2e75b6"/>
<circle cx="535.5" cy="328.8" r="3" fill="#ff3b1f"/>
<circle cx="535.5" cy="328.8" r="1.3" fill="#f08a30"/>
<circle cx="545.0" cy="316.0" r="3" fill="#ff3b1f"/>
<circle cx="545.0" cy="316.0" r="1.3" fill="#f08a30"/>
<circle cx="564.3" cy="303.1" r="3" fill="#ff3b1f"/>
<circle cx="564.3" cy="303.1" r="1.3" fill="#f08a30"/>
<circle cx="622.0" cy="276.9" r="3" fill="#ff3b1f"/>
<circle cx="622.0" cy="276.9" r="1.3" fill="#f08a30"/>
<circle cx="795.0" cy="240.4" r="3" fill="#ff3b1f"/>
<circle cx="795.0" cy="240.4" r="1.3" fill="#f08a30"/>
<circle cx="521.7" cy="376" r="2.6" fill="#2e75b6"/>
<text x="532.2" y="379" font-size="8.5" fill="#595959" textLength="60" lengthAdjust="spacingAndGlyphs">Average end of inj</text>
<circle cx="606" cy="376" r="2.8" fill="#ff3b1f"/><circle cx="606" cy="376" r="1.2" fill="#f08a30"/>
<text x="616.4" y="379" font-size="8.5" fill="#595959" textLength="61.4" lengthAdjust="spacingAndGlyphs">Average rinse start</text>
<line x1="683.4" y1="376.4" x2="701.6" y2="376.4" stroke="#2e75b6" stroke-width="2"/>
<text x="702.3" y="379" font-size="8.5" fill="#595959" textLength="29.6" lengthAdjust="spacingAndGlyphs">LoD (EoI)</text>
<line x1="737.7" y1="376.4" x2="756.2" y2="376.4" stroke="#ff2020" stroke-width="2"/>
<text x="757.2" y="379" font-size="8.5" fill="#595959" textLength="36.1" lengthAdjust="spacingAndGlyphs">LoD (RinSt)</text>
<polygon points="44.7,74.5 47.7,69.7 53.8,69.7 56.7,74.5 53.8,79.3 47.7,79.3" fill="none" stroke="#cde27a" stroke-width="1.15"/>
</svg>

<div class="tbl">
 <div class="hd"></div>
 <div class="a" style="left:0;top:5px;width:116px;text-align:center;font-weight:bold;font-size:11.6px;line-height:13.2px;color:#404040">Spiked<br>Concentrations</div>
 <div class="c" style="left:-1.5px;top:42px;font-size:9.5px;color:#404040">nM</div>
 <div class="c" style="left:57.5px;top:42px;font-size:9.5px;color:#404040">ng/ml</div>
 <div class="c" style="left:-1px;top:63px">10</div>
 <div class="c" style="left:58px;top:63px">1500</div>
 <div class="c" style="left:-1px;top:90.6px">3.3</div>
 <div class="c" style="left:58px;top:90.6px">500</div>
 <div class="c" style="left:-1px;top:118.6px">1.1</div>
 <div class="c" style="left:58px;top:118.6px">166.6</div>
 <div class="c" style="left:-1px;top:147px">0.37</div>
 <div class="c" style="left:58px;top:147px">55.5</div>
</div>

<div class="bar" style="left:25px;top:394px;width:122px;height:26px"></div>
<div class="bar" style="left:151px;top:394px;width:332px;height:26px;font-size:13.5px;line-height:27.4px">LOD in diluted samples</div>
<div class="bar" style="left:487px;top:394px;width:335px;height:26px;font-size:13.5px;line-height:27.4px">LOD</div>

<div class="a" style="left:30px;top:425px;font-size:13.5px;line-height:16px">Buffer</div>
<div class="a" style="left:30px;top:449.8px;font-size:13.5px;line-height:16px">10% blood serum</div>
<div class="a" style="left:30px;top:474.8px;font-size:13.5px;line-height:16px">50% blood serum</div>
<div class="a" style="left:291.5px;top:425px;font-size:13.5px;line-height:16px">25 ng/ml</div>
<div class="a" style="left:291.5px;top:449.8px;font-size:13.5px;line-height:16px">35 ng/ml</div>
<div class="a" style="left:291.5px;top:474.8px;font-size:13.5px;line-height:16px">40 ng/ml</div>
<div class="a" style="left:610.5px;top:425px;font-size:13.5px;line-height:16px">Not applicable</div>
<div class="a" style="left:624px;top:449.8px;font-size:13.5px;line-height:16px">350 ng/ml</div>
<div class="a" style="left:627px;top:474.8px;font-size:13.5px;line-height:16px">800 ng/ml</div>
<svg width="831" height="515" viewBox="0 0 831 515">
<ellipse cx="637.8" cy="474.8" rx="11.2" ry="9.2" fill="#fff" fill-opacity="0.82" stroke="#c8c8c8" stroke-width="0.8"/>
<ellipse cx="647.4" cy="482" rx="9.4" ry="8" fill="#fff" fill-opacity="0.82" stroke="#bdbdbd" stroke-width="0.8"/>
<circle cx="633.4" cy="470.3" r="1" fill="#b0b0b0"/><circle cx="642.2" cy="470.3" r="1" fill="#b0b0b0"/>
<circle cx="644.5" cy="478.6" r="0.8" fill="#b8b8b8"/><circle cx="650.2" cy="478.6" r="0.8" fill="#b8b8b8"/>
<rect x="664" y="467.5" width="142" height="23" fill="#fff" fill-opacity="0.8"/>
<g fill="none" stroke="#fff" stroke-width="2.6" stroke-linecap="round" stroke-linejoin="round" opacity="0.9"><path transform="translate(665.80,469.2)" d="M0,4 L18,4 M5,1 L5,7 M13,1 L13,7 M3,9.5 L14.5,9.5 L14,17.5 Q13.8,19 12,18.5 M8.5,7 L8.5,11 Q8,16 2.5,19 M3,12.5 L1.5,16 M15.5,12.5 L17.8,16"/><path transform="translate(685.55,469.2)" d="M3.5,1 L3.5,10 Q3,16 0.5,19 M9,1 L9,18 M16,0.5 L16,19 M1.5,7.5 L0.5,11 M5.5,7 L6.5,10.5 M11.5,7 L12.5,10.5"/><path transform="translate(705.30,469.2)" d="M0.5,2.5 L8,2.5 M1,2.5 L1,17.5 L8.5,17.5 M2.5,6 L7.5,14.5 M7.5,6 L3,14.5 M11.5,0.5 L9.5,6 M10.5,4.5 L17.5,4.5 L16,8 M13.5,6 Q13,14 9,19 M13.5,11 Q15,16 18,18.5"/><path transform="translate(725.05,469.2)" d="M5,0.5 L0.5,9 M3,6 L3,19 M7,3 L16.5,3 L7.5,16.5 Q8,17.5 10,17.5 L17,17.5 L17.5,14"/><path transform="translate(744.80,469.2)" d="M2.5,2 L0.5,7 M1.5,6.5 L7.5,6.5 M4.5,0.5 L4.5,19 M0,13 L8,10.5 M9.5,4 L17.5,4 M13.5,0.5 L13.5,8 M8.5,8 L18.5,8 M8.5,11.5 L18.5,11.5 M15.5,9 L15.5,18 Q15.5,19 13.5,18.5 M10.5,13.5 L12,16"/><path transform="translate(764.55,469.2)" d="M5,0.5 L0.5,9 M3,6 L3,19 M10.5,1 L12,4 M16.5,3 Q13,14 6,19 M8,5 Q12,14 18,19"/><path transform="translate(784.30,469.2)" d="M1.5,0.5 h6 v5.5 h-6 Z M10.5,0.5 h6 v5.5 h-6 Z M0,9.5 L18,9.5 M9.5,6.5 Q8,11 3,12.5 M9.5,9.5 Q12,12 17,12.5 M13.5,7 L15,8.5 M1.5,13 h6 v5.5 h-6 Z M10.5,13 h6 v5.5 h-6 Z"/></g>
<g fill="none" stroke="#3c3c3c" stroke-width="1.15" stroke-linecap="butt" stroke-linejoin="round"><path transform="translate(665.80,469.2)" d="M0,4 L18,4 M5,1 L5,7 M13,1 L13,7 M3,9.5 L14.5,9.5 L14,17.5 Q13.8,19 12,18.5 M8.5,7 L8.5,11 Q8,16 2.5,19 M3,12.5 L1.5,16 M15.5,12.5 L17.8,16"/><path transform="translate(685.55,469.2)" d="M3.5,1 L3.5,10 Q3,16 0.5,19 M9,1 L9,18 M16,0.5 L16,19 M1.5,7.5 L0.5,11 M5.5,7 L6.5,10.5 M11.5,7 L12.5,10.5"/><path transform="translate(705.30,469.2)" d="M0.5,2.5 L8,2.5 M1,2.5 L1,17.5 L8.5,17.5 M2.5,6 L7.5,14.5 M7.5,6 L3,14.5 M11.5,0.5 L9.5,6 M10.5,4.5 L17.5,4.5 L16,8 M13.5,6 Q13,14 9,19 M13.5,11 Q15,16 18,18.5"/><path transform="translate(725.05,469.2)" d="M5,0.5 L0.5,9 M3,6 L3,19 M7,3 L16.5,3 L7.5,16.5 Q8,17.5 10,17.5 L17,17.5 L17.5,14"/><path transform="translate(744.80,469.2)" d="M2.5,2 L0.5,7 M1.5,6.5 L7.5,6.5 M4.5,0.5 L4.5,19 M0,13 L8,10.5 M9.5,4 L17.5,4 M13.5,0.5 L13.5,8 M8.5,8 L18.5,8 M8.5,11.5 L18.5,11.5 M15.5,9 L15.5,18 Q15.5,19 13.5,18.5 M10.5,13.5 L12,16"/><path transform="translate(764.55,469.2)" d="M5,0.5 L0.5,9 M3,6 L3,19 M10.5,1 L12,4 M16.5,3 Q13,14 6,19 M8,5 Q12,14 18,19"/><path transform="translate(784.30,469.2)" d="M1.5,0.5 h6 v5.5 h-6 Z M10.5,0.5 h6 v5.5 h-6 Z M0,9.5 L18,9.5 M9.5,6.5 Q8,11 3,12.5 M9.5,9.5 Q12,12 17,12.5 M13.5,7 L15,8.5 M1.5,13 h6 v5.5 h-6 Z M10.5,13 h6 v5.5 h-6 Z"/></g>
</svg>
</body></html>
